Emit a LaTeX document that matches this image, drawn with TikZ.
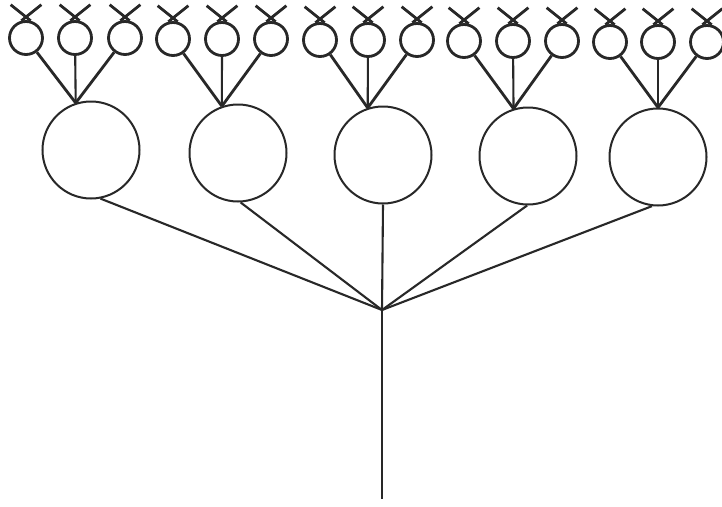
\documentclass[tikz,border=0pt]{standalone}
\begin{document}
\begin{tikzpicture}[x=1pt,y=-1pt]
\definecolor{ink}{RGB}{40,40,40}
\tikzset{
  smallc/.style={circle, draw=ink, line width=2.8pt, minimum size=33pt, inner sep=0pt},
  bigc/.style={circle, draw=ink, line width=2pt, minimum size=97pt, inner sep=0pt},
  twig/.style={draw=ink, line width=2.8pt},
  stem/.style={draw=ink, line width=2.1pt},
  ear/.style={draw=ink, line width=2.8pt},
}
\fill[white] (0,0) rectangle (722,506);
\useasboundingbox (0,0) rectangle (722,506);
% big circles with apex and foot coordinates
\foreach \g/\x/\y/\aa/\ab in {1/91/150/108/-79, 2/238/153/109/-87, 3/383/155/108/-90, 4/528/156/107/-91, 5/658/157/90/-97}{
  \node[bigc] (B\g) at (\x,\y) {};
  \coordinate (a\g) at (B\g.\aa);
  \coordinate (f\g) at (B\g.\ab);
}
% small circles
\foreach \g/\xa/\xb/\xc/\y in {1/26/75/125/38, 2/173/222/271/39, 3/320/368/417/40, 4/464/513/562/41, 5/610/658/707/42}{
  \node[smallc] (s\g-1) at (\xa,\y) {};
  \node[smallc] (s\g-2) at (\xb,\y) {};
  \node[smallc] (s\g-3) at (\xc,\y) {};
  \foreach \k in {1,2,3}{
    \draw[ear] (s\g-\k.75) -- ++(-20,-16);
    \draw[ear] (s\g-\k.105) -- ++(20,-16);
  }
  \draw[twig] (s\g-1) -- (a\g);
  \draw[stem] (s\g-2) -- (a\g);
  \draw[twig] (s\g-3) -- (a\g);
}
% hub and trunk
\coordinate (hub) at (382,310);
\coordinate (root) at (382,499);
\foreach \g in {1,...,5}{
  \draw[stem] (f\g) -- (hub);
}
\draw[stem] (hub) -- (root);
\end{tikzpicture}
\end{document}
